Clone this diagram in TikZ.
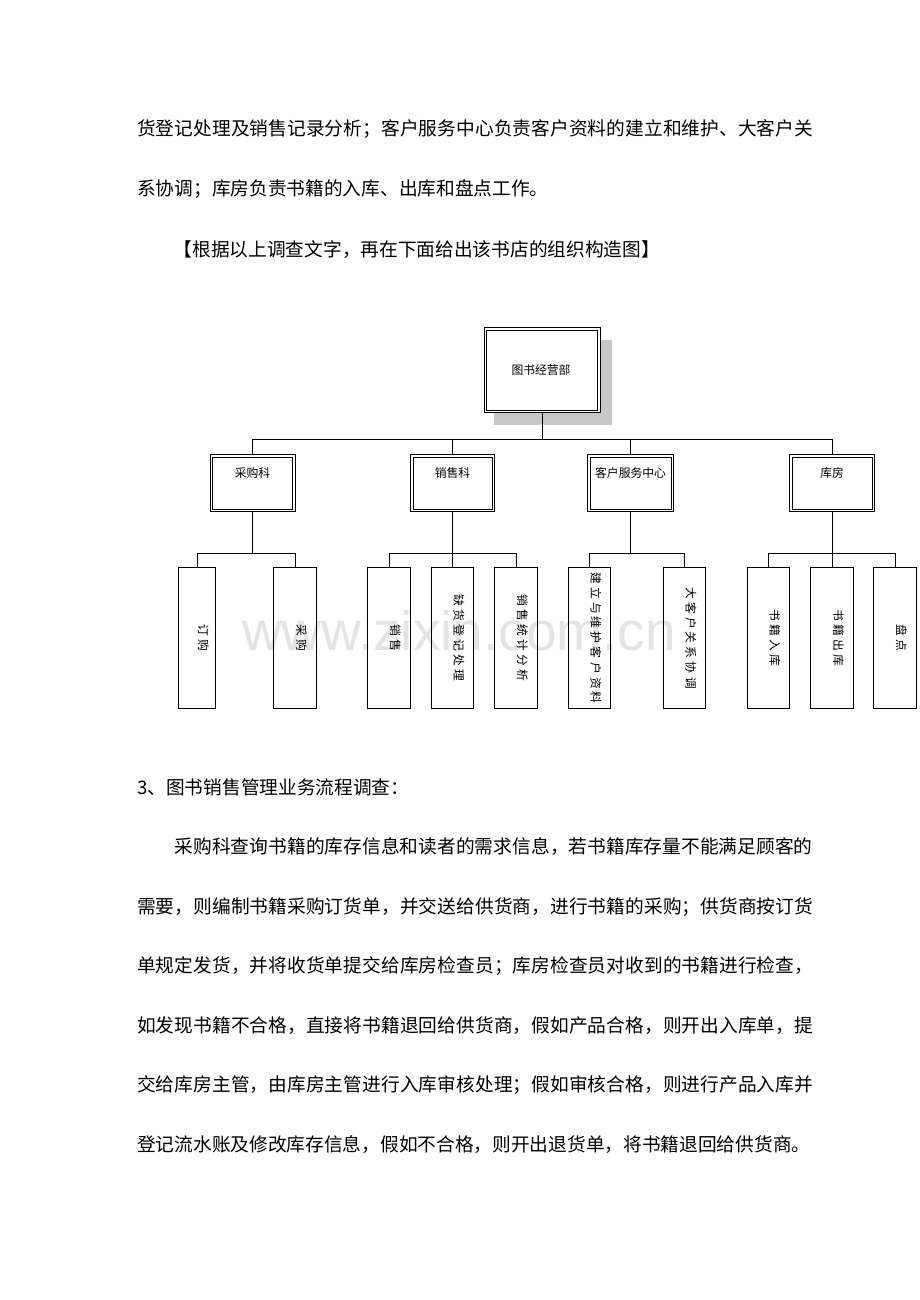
\documentclass[tikz,border=0pt]{standalone}
\usepackage{fontspec}
\setmainfont{Liberation Sans}
\newfontfamily\cjk{Noto Sans CJK SC}
\newcommand\sprdtext[2]{\def\sprdglue{#1}\sprdloop#2\relax\unskip}
\def\sprdloop#1{\ifx\relax#1\else#1\sprdglue\expandafter\sprdloop\fi}
\newcommand\jline[2]{\hbox to #1{\sprdtext{\hfil}{#2}}}
\newcommand\lsp[1]{\sprdtext{\hskip3.2pt\relax}{#1}}
\definecolor{shadowc}{RGB}{200,200,200}
\definecolor{wmc}{RGB}{228,228,228}
\tikzset{
  body/.style={anchor=base west, inner sep=0pt, font=\cjk\fontsize{18.7}{22}\selectfont},
  dept/.style={draw, line width=1.1pt, inner sep=0pt, anchor=north west, minimum height=57pt},
  inner/.style={line width=0.7pt},
  leaf/.style={draw, line width=0.8pt, inner sep=0pt, anchor=north west, minimum height=141pt},
  dlabel/.style={inner sep=0pt, font=\cjk\fontsize{11.8}{12}\selectfont},
  ltext/.style={inner sep=0pt, rotate=-90, font=\cjk\fontsize{11.8}{12}\selectfont},
  conn/.style={line width=0.8pt},
}
\begin{document}
\begin{tikzpicture}[x=1pt,y=-1pt]
\useasboundingbox[fill=white] (0,0) rectangle (920,1300);

% body text
\node[body] (t1) at (137,135.5) {\jline{676pt}{货登记处理及销售记录分析；客户服务中心负责客户资料的建立和维护、大客户关}};
\node[body] (t2) at (137,196) {系协调；库房负责书籍的入库、出库和盘点工作。};
\node[body] (t3) at (173.5,256.5) {【根据以上调查文字，再在下面给出该书店的组织构造图】};

\node[body] (t4) at (137,794) {3、图书销售管理业务流程调查：};
\node[body] (t5) at (174.5,853.5) {\jline{638pt}{采购科查询书籍的库存信息和读者的需求信息，若书籍库存量不能满足顾客的}};
\node[body] (t6) at (137,913) {\jline{676pt}{需要，则编制书籍采购订货单，并交送给供货商，进行书籍的采购；供货商按订货}};
\node[body] (t7) at (137,972.5) {\jline{676pt}{单规定发货，并将收货单提交给库房检查员；库房检查员对收到的书籍进行检查，}};
\node[body] (t8) at (137,1032) {\jline{676pt}{如发现书籍不合格，直接将书籍退回给供货商，假如产品合格，则开出入库单，提}};
\node[body] (t9) at (137,1091.5) {\jline{676pt}{交给库房主管，由库房主管进行入库审核处理；假如审核合格，则进行产品入库并}};
\node[body] (t10) at (137,1151) {登记流水账及修改库存信息，假如不合格，则开出退货单，将书籍退回给供货商。};

% watermark
\node[font=\fontsize{55}{60}\selectfont, text=wmc, inner sep=0pt, anchor=base] (wm) at (459,650) {www.zixin.com.cn};

% top box
\fill[shadowc] (494,340) rectangle (612,425);
\node[dept, fill=white, minimum width=116pt, minimum height=85pt] (top) at (483.5,327) {};
\node[dlabel] (toptxt) at (541,370) {图书经营部};

% departments
\node[dept, minimum width=85pt] (cg) at (209.5,454) {};
\node[dept, minimum width=84pt] (xs) at (410,454) {};
\node[dept, minimum width=86pt] (kh) at (587,454) {};
\node[dept, minimum width=85pt] (kf) at (789,454) {};
\foreach \n in {top,cg,xs,kh,kf}
  \draw[inner] ([xshift=3pt,yshift=-3pt]\n.north west) rectangle ([xshift=-3pt,yshift=3pt]\n.south east);
\node[dlabel] (cgt) at ([yshift=-19pt]cg.north) {采购科};
\node[dlabel] (xst) at ([yshift=-19pt]xs.north) {销售科};
\node[dlabel] (kht) at ([yshift=-19pt]kh.north) {客户服务中心};
\node[dlabel] (kft) at ([yshift=-19pt]kf.north) {库房};

% leaves
\node[leaf, minimum width=37pt] (l1) at (178,567) {};
\node[leaf, minimum width=43pt] (l2) at (273,567) {};
\node[leaf, minimum width=43pt] (l3) at (367,567) {};
\node[leaf, minimum width=42pt] (l4) at (431,567) {};
\node[leaf, minimum width=43pt] (l5) at (494,567) {};
\node[leaf, minimum width=42pt] (l6) at (568,567) {};
\node[leaf, minimum width=42pt] (l7) at (663,567) {};
\node[leaf, minimum width=42pt] (l8) at (747,567) {};
\node[leaf, minimum width=43pt] (l9) at (810,567) {};
\node[leaf, minimum width=43pt] (l10) at (873,567) {};

\node[ltext] (l1t) at ([xshift=6.5pt]l1.center) {\lsp{订购}};
\node[ltext] (l2t) at ([xshift=6.5pt]l2.center) {\lsp{采购}};
\node[ltext] (l3t) at ([xshift=6.5pt]l3.center) {\lsp{销售}};
\node[ltext] (l4t) at ([xshift=6.5pt]l4.center) {\lsp{缺货登记处理}};
\node[ltext] (l5t) at ([xshift=6.5pt]l5.center) {\lsp{销售统计分析}};
\node[ltext] (l6t) at ([xshift=6.5pt]l6.center) {\lsp{建立与维护客户资料}};
\node[ltext] (l7t) at ([xshift=6.5pt]l7.center) {\lsp{大客户关系协调}};
\node[ltext] (l8t) at ([xshift=6.5pt]l8.center) {\lsp{书籍入库}};
\node[ltext] (l9t) at ([xshift=6.5pt]l9.center) {\lsp{书籍出库}};
\node[ltext] (l10t) at ([xshift=6.5pt]l10.center) {\lsp{盘点}};

% connectors
\coordinate (b1) at (0,439);
\coordinate (b2) at (0,553);
\draw[conn] (top.south) -- (top.south |- b1);
\draw[conn] (cg.north |- b1) -- (kf.north |- b1);
\foreach \n in {cg,xs,kh,kf} \draw[conn] (\n.north) -- (\n.north |- b1);

\draw[conn] (cg.south) -- (cg.south |- b2);
\draw[conn] (l1.north |- b2) -- (l2.north |- b2);
\foreach \n in {l1,l2} \draw[conn] (\n.north) -- (\n.north |- b2);

\draw[conn] (xs.south) -- (xs.south |- b2);
\draw[conn] (l3.north |- b2) -- (l5.north |- b2);
\foreach \n in {l3,l4,l5} \draw[conn] (\n.north) -- (\n.north |- b2);

\draw[conn] (kh.south) -- (kh.south |- b2);
\draw[conn] (l6.north |- b2) -- (l7.north |- b2);
\foreach \n in {l6,l7} \draw[conn] (\n.north) -- (\n.north |- b2);

\draw[conn] (kf.south) -- (kf.south |- b2);
\draw[conn] (l8.north |- b2) -- (l10.north |- b2);
\foreach \n in {l8,l9,l10} \draw[conn] (\n.north) -- (\n.north |- b2);
\end{tikzpicture}
\end{document}
